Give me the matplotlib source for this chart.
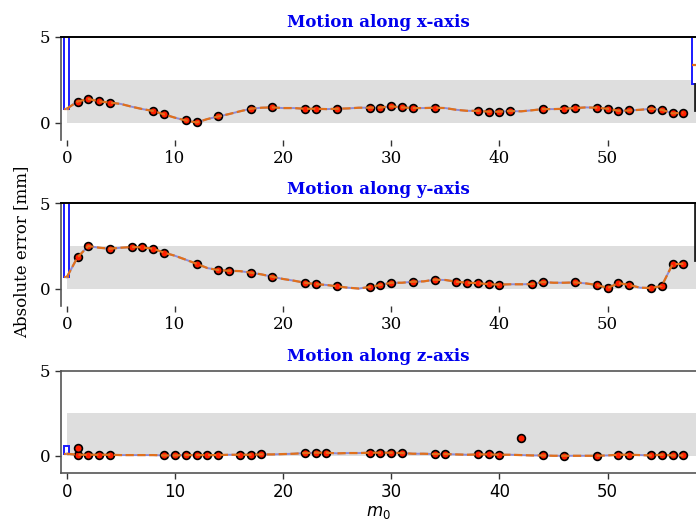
import numpy as np
import matplotlib
matplotlib.use("Agg")
import matplotlib.pyplot as plt

plt.rcParams['font.family'] = ['DejaVu Serif']

m0 = np.arange(58)

line_x = [0.82, 1.24, 1.39, 1.25, 1.18, 1.10, 0.94, 0.80, 0.69, 0.49,
          0.30, 0.14, 0.02, 0.22, 0.37, 0.51, 0.67, 0.82, 0.88, 0.90,
          0.86, 0.86, 0.82, 0.82, 0.80, 0.82, 0.84, 0.88, 0.88, 0.89,
          0.96, 0.90, 0.86, 0.86, 0.88, 0.86, 0.76, 0.70, 0.70, 0.65,
          0.65, 0.69, 0.67, 0.73, 0.80, 0.80, 0.82, 0.86, 0.90, 0.88,
          0.82, 0.70, 0.72, 0.76, 0.82, 0.76, 0.55, 0.59]
line_y = [0.67, 1.84, 2.50, 2.40, 2.34, 2.40, 2.44, 2.42, 2.34, 2.11,
          1.93, 1.70, 1.46, 1.21, 1.09, 1.05, 1.03, 0.94, 0.84, 0.70,
          0.57, 0.47, 0.35, 0.27, 0.22, 0.14, 0.06, 0.01, 0.10, 0.22,
          0.35, 0.35, 0.41, 0.43, 0.53, 0.51, 0.41, 0.35, 0.33, 0.26,
          0.24, 0.26, 0.26, 0.27, 0.39, 0.35, 0.35, 0.37, 0.31, 0.22,
          0.04, 0.33, 0.22, 0.06, 0.04, 0.16, 1.43, 1.46]
line_z = [0.13, 0.07, 0.07, 0.07, 0.07, 0.05, 0.05, 0.05, 0.05, 0.03,
          0.03, 0.05, 0.05, 0.05, 0.05, 0.07, 0.07, 0.07, 0.09, 0.09,
          0.11, 0.13, 0.17, 0.19, 0.19, 0.15, 0.17, 0.17, 0.19, 0.19,
          0.19, 0.17, 0.13, 0.13, 0.11, 0.11, 0.09, 0.07, 0.09, 0.09,
          0.07, 0.07, 0.05, 0.03, 0.03, 0.01, 0.01, 0.01, 0.01, 0.01,
          0.03, 0.07, 0.07, 0.05, 0.03, 0.07, 0.03, 0.03]

dot_x_m = [1, 2, 3, 4, 8, 9, 11, 12, 14, 17, 19, 22, 23, 25, 28, 29, 30, 31,
           32, 34, 38, 39, 40, 41, 44, 46, 47, 49, 50, 51, 52, 54, 55, 56, 57]
dot_x_v = [1.24, 1.39, 1.25, 1.18, 0.69, 0.49, 0.14, 0.02, 0.37, 0.82, 0.90,
           0.82, 0.82, 0.82, 0.88, 0.89, 0.96, 0.90, 0.86, 0.88, 0.70, 0.65,
           0.65, 0.69, 0.80, 0.82, 0.86, 0.88, 0.82, 0.70, 0.72, 0.82, 0.76,
           0.55, 0.59]
dot_y_m = [1, 2, 4, 6, 7, 8, 9, 12, 14, 15, 17, 19, 22, 23, 25, 28, 29, 30,
           32, 34, 36, 37, 38, 39, 40, 43, 44, 47, 49, 50, 51, 52, 54, 55, 56, 57]
dot_y_v = [1.84, 2.50, 2.34, 2.44, 2.42, 2.34, 2.11, 1.46, 1.09, 1.05, 0.94,
           0.70, 0.35, 0.27, 0.14, 0.10, 0.22, 0.35, 0.41, 0.53, 0.41, 0.35,
           0.33, 0.26, 0.24, 0.27, 0.39, 0.37, 0.22, 0.04, 0.33, 0.22, 0.04,
           0.16, 1.43, 1.46]
dot_z_m = [1, 1, 2, 3, 4, 9, 10, 11, 12, 13, 14, 16, 17, 18, 22, 23, 24, 28,
           29, 30, 31, 34, 35, 38, 39, 40, 42, 44, 46, 49, 51, 52, 54, 55, 56, 57]
dot_z_v = [0.07, 0.48, 0.07, 0.07, 0.07, 0.03, 0.03, 0.05, 0.05, 0.05, 0.05,
           0.07, 0.07, 0.09, 0.17, 0.19, 0.19, 0.19, 0.19, 0.19, 0.17, 0.11,
           0.11, 0.09, 0.09, 0.07, 1.07, 0.03, 0.01, 0.01, 0.07, 0.07, 0.03,
           0.07, 0.03, 0.03]

# boxplot summaries (q1, median, q3, whisker low, whisker high)
box_left = [(0.82, 0.82, 8.0, 0.82, 9.0),
            (0.67, 0.67, 8.0, 0.67, 9.0),
            (0.13, 0.13, 0.58, 0.13, 0.58)]
box_right = [(2.27, 3.37, 8.0, 0.76, 9.0),
             (6.0, 7.0, 8.0, 1.70, 9.0),
             None]
band = (0.0, 2.5)
titles = ["Motion along x-axis", "Motion along y-axis", "Motion along z-axis"]

lines = [line_x, line_y, line_z]
dots = [(dot_x_m, dot_x_v), (dot_y_m, dot_y_v), (dot_z_m, dot_z_v)]

W, H = 696, 525
fig = plt.figure(figsize=(W / 100, H / 100), dpi=100)
left_px, right_px = 61, 696
tops = [37, 203.3, 370.7]
bots = [140, 305.8, 473]
XL = (-0.53, 58.17)
right_pos = 58.06

spine_gray = '#555555'
for i in range(3):
    ax = fig.add_axes([left_px / W, 1 - bots[i] / H, (right_px - left_px) / W,
                       (bots[i] - tops[i]) / H])
    ax.set_xlim(*XL)
    ax.set_ylim(-1.0, 5.0)
    ax.fill_between([0, XL[1] + 1], band[0], band[1], color='#dedede',
                    linewidth=0, zorder=0)
    ax.plot(m0, lines[i], color='#8c8cd8', lw=1.4, zorder=3)
    ax.plot(m0, lines[i], color='#e0701c', lw=1.6, ls='--', zorder=5)
    ax.plot(dots[i][0], dots[i][1], 'o', ms=5.6, mfc='#ff2000', mec='black',
            mew=1.2, zorder=4, ls='none')
    stats = []
    pos = []
    for b, p in ((box_left[i], 0), (box_right[i], right_pos)):
        if b is None:
            continue
        stats.append(dict(q1=b[0], med=b[1], q3=b[2], whislo=b[3], whishi=b[4],
                          fliers=[]))
        pos.append(p)
    ax.bxp(stats, positions=pos, widths=0.5, patch_artist=True,
           showcaps=False, showfliers=False, manage_ticks=False,
           boxprops=dict(facecolor='white', edgecolor='#1a1aff', lw=1.4),
           medianprops=dict(color='#e0701c', lw=1.6),
           whiskerprops=dict(color='#222222', lw=2.0), zorder=2)
    ax.set_xlim(*XL)
    ax.set_ylim(-1.0, 5.0)
    ax.set_yticks([0, 5])
    ax.set_xticks([0, 10, 20, 30, 40, 50])
    ax.tick_params(labelsize=12, length=4, width=1, color='#333333')
    ax.spines['right'].set_visible(False)
    ax.spines['left'].set_color(spine_gray)
    ax.spines['left'].set_linewidth(1.2)
    if i < 2:
        ax.spines['bottom'].set_visible(False)
        ax.spines['top'].set_color('black')
        ax.spines['top'].set_linewidth(1.4)
    else:
        ax.spines['top'].set_color(spine_gray)
        ax.spines['top'].set_linewidth(1.2)
        ax.spines['bottom'].set_color(spine_gray)
        ax.spines['bottom'].set_linewidth(1.2)
        for lab in ax.get_xticklabels():
            lab.set_family('DejaVu Sans')
        ax.set_xlabel('$m_0$', fontsize=12, labelpad=2)
    ax.set_title(titles[i], color='#0000ee', fontweight='bold', fontsize=12,
                 pad=7)

fig.text(22 / W, 1 - 252 / H, 'Absolute error [mm]', rotation=90,
         ha='center', va='center', fontsize=12)

fig.savefig('out.png', dpi=100)
